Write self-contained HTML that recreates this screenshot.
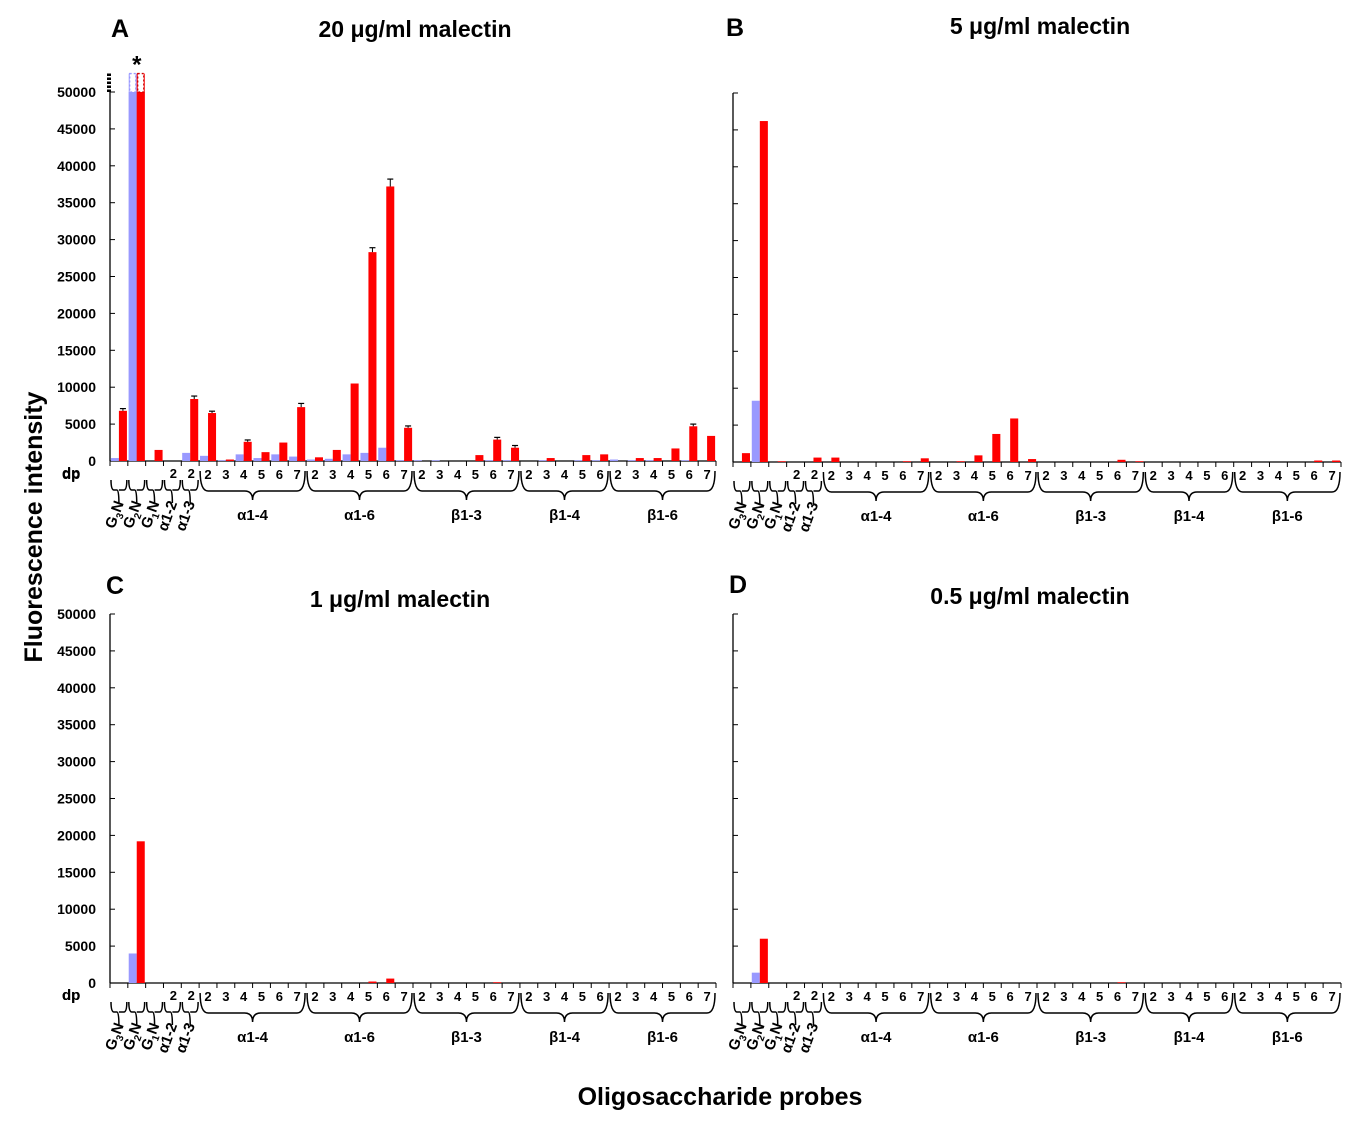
<!DOCTYPE html>
<html><head><meta charset="utf-8"><style>
body{margin:0;background:#fff;}
svg{display:block;font-family:"Liberation Sans",Arial,sans-serif;font-weight:bold;}
</style></head><body>
<svg id="chart" width="1368" height="1125" viewBox="0 0 1368 1125"></svg>
<script>
const slotLabels = ["G3N","G2N","G1N","α1-2","α1-3"];
const groupNames = ["α1-4","α1-6","β1-3","β1-4","β1-6"];
const groupDp = [[2,3,4,5,6,7],[2,3,4,5,6,7],[2,3,4,5,6,7],[2,3,4,5,6],[2,3,4,5,6,7]];
const yTicks = [0,5000,10000,15000,20000,25000,30000,35000,40000,45000,50000];
const blueA = [400,52500,0,0,1100, 700,100,900,400,900,600, 200,300,900,1100,1800,100, 100,100,0,0,100,100, 0,100,0,100,100, 200,100,100,0,100,0];
const redA  = [6800,52500,1500,0,8400, 6500,200,2600,1200,2500,7300, 500,1500,10500,28300,37200,4500, 0,0,0,800,2900,1800, 0,400,0,800,900, 0,400,400,1700,4700,3400];
const errA  = [300,0,0,0,400, 250,0,250,0,0,500, 0,0,0,600,1000,250, 0,0,0,0,300,300, 0,0,0,0,0, 0,0,0,0,300,0];
const blueB = [0,8300,0,0,0, 0,0,0,0,0,0, 0,0,0,0,0,0, 0,0,0,0,0,0, 0,0,0,0,0, 0,0,0,0,0,0];
const redB  = [1200,46200,100,0,600, 600,0,0,0,100,500, 0,100,900,3800,5900,400, 0,0,0,0,300,100, 0,0,0,0,0, 0,0,0,0,200,200];
const blueC = [0,4000,0,0,0, 0,0,0,0,0,0, 0,0,0,0,0,0, 0,0,0,0,0,0, 0,0,0,0,0, 0,0,0,0,0,0];
const redC  = [0,19200,0,0,0, 0,0,0,0,0,0, 0,0,0,200,600,0, 0,0,0,0,100,0, 0,0,0,0,0, 0,0,0,0,0,0];
const blueD = [0,1400,0,0,0, 0,0,0,0,0,0, 0,0,0,0,0,0, 0,0,0,0,0,0, 0,0,0,0,0, 0,0,0,0,0,0];
const redD  = [0,6000,0,0,0, 0,0,0,0,0,0, 0,0,0,0,0,0, 0,0,0,0,100,0, 0,0,0,0,0, 0,0,0,0,0,0];

const NS="http://www.w3.org/2000/svg";
const svg=document.getElementById('chart');
function mk(tag,attrs,parent,text){const e=document.createElementNS(NS,tag);for(const k in attrs)e.setAttribute(k,attrs[k]);if(text!==undefined)e.textContent=text;(parent||svg).appendChild(e);return e;}

const panels=[
 {id:'a',letter:'A',title:'20 μg/ml malectin',x0:110,x1:716,y0:461,y50:92,ticks:true,blue:blueA,red:redA,err:errA,lx:120,ly:37,tx:415,ty:37,cap:true},
 {id:'b',letter:'B',title:'5 μg/ml malectin',x0:733,x1:1341,y0:462,y50:93,ticks:false,blue:blueB,red:redB,err:null,lx:735,ly:36,tx:1040,ty:34},
 {id:'c',letter:'C',title:'1 μg/ml malectin',x0:110,x1:716,y0:983,y50:614,ticks:true,blue:blueC,red:redC,err:null,lx:115,ly:594,tx:400,ty:607},
 {id:'d',letter:'D',title:'0.5 μg/ml malectin',x0:733,x1:1341,y0:983,y50:614,ticks:false,blue:blueD,red:redD,err:null,lx:738,ly:593,tx:1030,ty:604}
];

panels.forEach(p=>{
 const g=mk('g',{},svg);
 
 
 const n=34, sw=(p.x1-p.x0)/n;
 const yS=v=>p.y0-(v/50000)*(p.y0-p.y50);
 const xS=i=>p.x0+i*sw;
 const L=mk('text',{x:p.lx,y:p.ly,'font-size':25,'text-anchor':'middle'},g,p.letter);
 
 
 const T=mk('text',{x:p.tx,y:p.ty,'font-size':23,'text-anchor':'middle'},g,p.title);
 
 
 const ya=mk('line',{x1:p.x0,y1:p.y50,x2:p.x0,y2:p.y0,stroke:'#000','stroke-width':1.3},g);
 
 
 const xa=mk('line',{x1:p.x0,y1:p.y0,x2:p.x1,y2:p.y0,stroke:'#000','stroke-width':1.3},g);
 
 
 yTicks.forEach(t=>{
  const y=yS(t);
  mk('line',{x1:p.x0,y1:y,x2:p.x0+5,y2:y,stroke:'#000','stroke-width':1},g);
  if(p.ticks){
   const tl=mk('text',{x:96,y:y+5,'font-size':14,'text-anchor':'end'},g,String(t));
   
   
  }
 });
 for(let i=0;i<=n;i++) mk('line',{x1:xS(i),y1:p.y0,x2:xS(i),y2:p.y0+5,stroke:'#000','stroke-width':1},g);
 const bw=sw*0.45;
 for(let i=0;i<n;i++){
  const cx=xS(i)+sw/2;
  const bv=p.blue[i], rv=p.red[i];
  if(bv>0){const b=mk('rect',{x:cx-bw,y:yS(bv),width:bw,height:p.y0-yS(bv),fill:'#9999ff'},g);
   
   }
  if(rv>0){const r=mk('rect',{x:cx,y:yS(rv),width:bw,height:p.y0-yS(rv),fill:'#ff0000'},g);
   
   
   const e=(p.err&&p.err[i])||0;
   if(e>0&&rv<50000){const ey=yS(rv+e);mk('line',{x1:cx+bw/2,y1:yS(rv),x2:cx+bw/2,y2:ey,stroke:'#000','stroke-width':1},g);mk('line',{x1:cx+1,y1:ey,x2:cx+bw-1,y2:ey,stroke:'#000','stroke-width':1.2},g);}
  }
 }
 if(p.cap){
  const cx=xS(1)+sw/2;
  const top=yS(52500), brk=yS(50000);
  mk('rect',{x:cx-bw,y:brk,width:bw,height:p.y0-brk,fill:'#9999ff'},g);
  mk('rect',{x:cx,y:brk,width:bw,height:p.y0-brk,fill:'#ff0000'},g);
  mk('rect',{x:cx-bw+1,y:top,width:bw-2,height:brk-top,fill:'#fff',stroke:'#9999ff','stroke-dasharray':'2,2','stroke-width':1.3},g);
  mk('rect',{x:cx+1,y:top,width:bw-2,height:brk-top,fill:'#fff',stroke:'#cc0000','stroke-dasharray':'2,2','stroke-width':1.3},g);
  mk('line',{x1:p.x0-1,y1:top,x2:p.x0-1,y2:brk,stroke:'#000','stroke-width':4,'stroke-dasharray':'2.5,1.5'},g);
  const st=mk('text',{x:cx,y:top-1,'font-size':24,'text-anchor':'middle'},g,'*');
  
  
 }
 const dp=mk('text',{x:62,y:p.y0+17,'font-size':15},g,'dp');
 
 
 const y0=p.y0;
 for(let i=0;i<5;i++){
  const a=xS(i)+1,b=xS(i+1)-1,c=(a+b)/2;
  if(i>=3) mk('text',{x:c+1,y:y0+17,'font-size':13,'text-anchor':'middle'},g,'2');
  mk('path',{d:`M${a} ${y0+19} Q${a} ${y0+29} ${a+3} ${y0+29} L${c-2} ${y0+29} Q${c} ${y0+29} ${c} ${y0+42} M${c} ${y0+29} Q${c} ${y0+29} ${c+2} ${y0+29} L${b-3} ${y0+29} Q${b} ${y0+29} ${b} ${y0+19}`,fill:'none',stroke:'#000','stroke-width':1.5},g);
  const lab=slotLabels[i];
  const t=mk('text',{x:0,y:0,'font-size':15,'text-anchor':'end',transform:`translate(${c+5},${y0+42}) rotate(-70)`},g);
  if(i<3){mk('tspan',{},t,'G');mk('tspan',{'font-size':10,dy:4},t,String(3-i));mk('tspan',{dy:-4},t,'N');}
  else t.textContent=lab;
  
  
 }
 let s=5;
 groupDp.forEach((dps,gi)=>{
  dps.forEach((d,k)=>{
   const tx=mk('text',{x:xS(s+k)+sw/2,y:y0+18,'font-size':13,'text-anchor':'middle'},g,String(d));
   
   
  });
  const a=xS(s)+1,b=xS(s+dps.length)-1,c=(a+b)/2;
  mk('path',{d:`M${a} ${y0+10} Q${a} ${y0+30} ${a+8} ${y0+30} L${c-8} ${y0+30} Q${c} ${y0+30} ${c} ${y0+39} Q${c} ${y0+30} ${c+8} ${y0+30} L${b-8} ${y0+30} Q${b} ${y0+30} ${b} ${y0+10}`,fill:'none',stroke:'#000','stroke-width':1.5},g);
  const gl=mk('text',{x:c,y:y0+59,'font-size':15,'text-anchor':'middle'},g,groupNames[gi]);
  
  
  s+=dps.length;
 });
});
const yt=mk('text',{x:0,y:0,'font-size':25,'text-anchor':'middle',transform:'translate(42,527) rotate(-90)'},svg,'Fluorescence intensity');


const xt=mk('text',{x:720,y:1105,'font-size':25,'text-anchor':'middle'},svg,'Oligosaccharide probes');


</script>
</body></html>
